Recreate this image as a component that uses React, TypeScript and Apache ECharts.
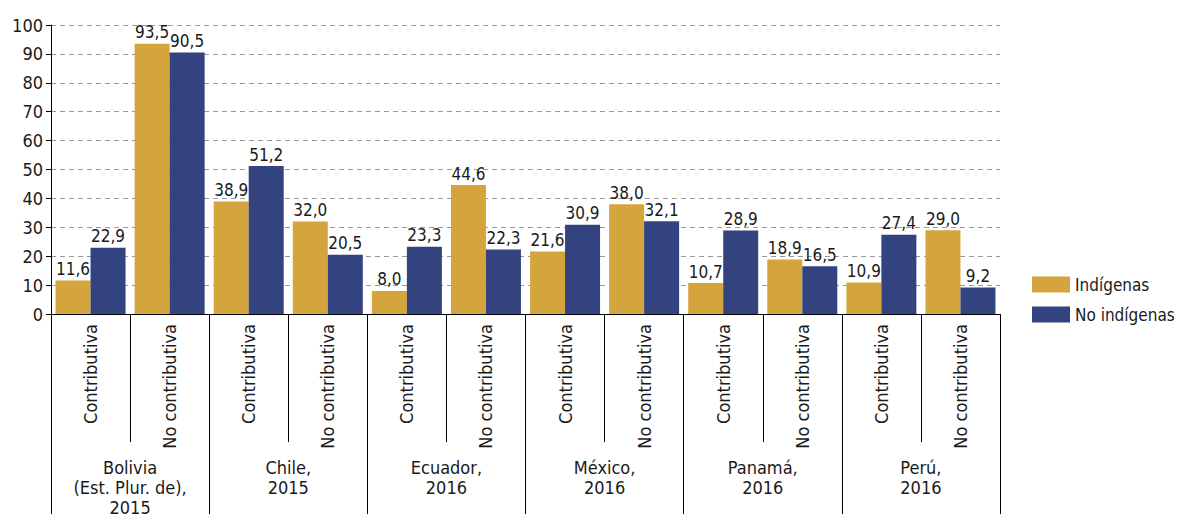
import React, { useEffect, useRef } from "react";
import * as echarts from "echarts";

const categories = [
  "Contributiva", "No contributiva",
  "Contributiva", "No contributiva",
  "Contributiva", "No contributiva",
  "Contributiva", "No contributiva",
  "Contributiva", "No contributiva",
  "Contributiva", "No contributiva",
];
const countries = [
  "Bolivia\n(Est. Plur. de),\n2015",
  "Chile,\n2015",
  "Ecuador,\n2016",
  "México,\n2016",
  "Panamá,\n2016",
  "Perú,\n2016",
];
const indigenas = [11.6, 93.5, 38.9, 32.0, 8.0, 44.6, 21.6, 38.0, 10.7, 18.9, 10.9, 29.0];
const noIndigenas = [22.9, 90.5, 51.2, 20.5, 23.3, 22.3, 30.9, 32.1, 28.9, 16.5, 27.4, 9.2];

const FONT = "'Liberation Sans Narrow', 'DejaVu Sans Condensed', 'Roboto', sans-serif";
const TXT = "#1a1a1a";
const fmt = (v: number) => v.toFixed(1).replace(".", ",");

export default function App() {
  const ref = useRef<HTMLDivElement>(null);
  useEffect(() => {
    if (!ref.current) return;
    const chart = echarts.init(ref.current, null, { renderer: "svg" });
    chart.setOption({
      animation: false,
      textStyle: { fontFamily: FONT },
      grid: { left: 51, right: 181, top: 25, bottom: 199, containLabel: false },
      legend: {
        orient: "vertical",
        left: 1027,
        top: 271,
        itemWidth: 38,
        itemHeight: 16,
        itemGap: 13,
        icon: "rect",
        textStyle: { fontFamily: FONT, fontSize: 17, color: TXT },
        data: ["Indígenas", "No indígenas"],
      },
      xAxis: [
        {
          type: "category",
          data: categories,
          position: "bottom",
          axisLine: { show: true, lineStyle: { color: "#000", width: 1 } },
          axisTick: { show: true, interval: 0, length: 128, lineStyle: { color: "#000", width: 1 } },
          axisLabel: {
            interval: 0,
            rotate: 90,
            margin: 10,
            fontFamily: FONT,
            fontSize: 18,
            color: TXT,
          },
        },
        {
          type: "category",
          data: countries,
          position: "bottom",
          axisLine: { show: false },
          axisTick: { show: true, interval: 0, length: 200, lineStyle: { color: "#000", width: 1 } },
          axisLabel: {
            interval: 0,
            margin: 143,
            fontFamily: FONT,
            fontSize: 18,
            lineHeight: 20,
            color: TXT,
          },
        },
      ],
      yAxis: {
        type: "value",
        min: 0,
        max: 100,
        interval: 10,
        axisLine: { show: true, lineStyle: { color: "#000", width: 1 } },
        axisTick: { show: true, length: 5, lineStyle: { color: "#000" } },
        axisLabel: { fontFamily: FONT, fontSize: 18, color: TXT, margin: 8 },
        splitLine: { show: true, lineStyle: { color: "#999", type: [5, 4], width: 1 } },
      },
      series: [
        {
          name: "Indígenas",
          type: "bar",
          xAxisIndex: 0,
          data: indigenas,
          barWidth: 35,
          barGap: "0%",
          itemStyle: { color: "#D4A53C" },
          label: {
            show: true,
            position: "top",
            distance: 3,
            fontFamily: FONT,
            fontSize: 17,
            color: TXT,
            formatter: (p: any) => fmt(p.value),
          },
        },
        {
          name: "No indígenas",
          type: "bar",
          xAxisIndex: 0,
          data: noIndigenas,
          barWidth: 35,
          barGap: "0%",
          itemStyle: { color: "#33437F" },
          label: {
            show: true,
            position: "top",
            distance: 3,
            fontFamily: FONT,
            fontSize: 17,
            color: TXT,
            formatter: (p: any) => fmt(p.value),
          },
        },
      ],
    });
    return () => chart.dispose();
  }, []);
  return (
    <div
      ref={ref}
      style={{ position: "fixed", left: 0, top: 0, width: 1181, height: 517, background: "#fff" }}
    />
  );
}
